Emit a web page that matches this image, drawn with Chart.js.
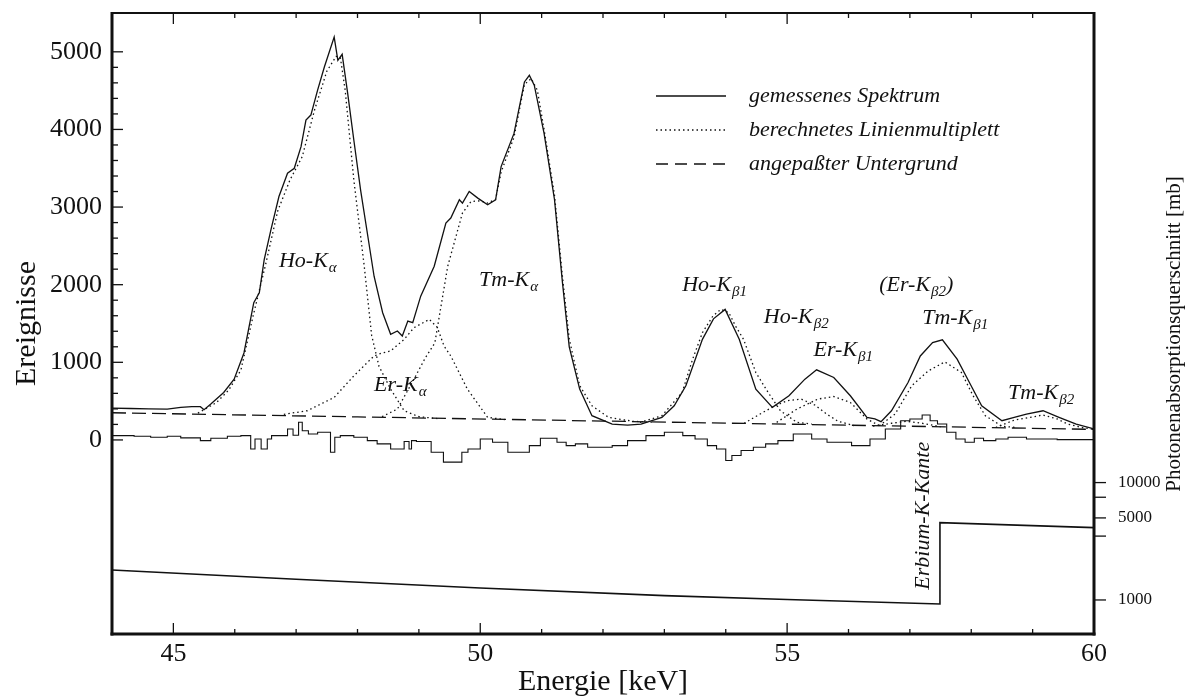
<html>
<head>
  <meta charset="utf-8">
  <title>Spektrum Ho / Er / Tm</title>
  <script src="https://cdn.jsdelivr.net/npm/chart.js"></script>
  <style>
    html, body { margin: 0; padding: 0; background: #fff; }
  </style>
</head>
<body>
<canvas id="spektrum" width="1190" height="700"></canvas>
<script>
// gemessenes Spektrum
const measE = [
  44.00,44.30,44.60,44.90,45.12,45.30,45.44,45.50,45.61,45.82,
  45.99,46.15,46.31,46.40,46.48,46.59,46.72,46.86,46.97,47.08,
  47.16,47.24,47.35,47.46,47.62,47.68,47.75,47.84,47.94,48.05,
  48.16,48.27,48.41,48.54,48.65,48.73,48.82,48.90,49.03,49.25,
  49.44,49.52,49.66,49.71,49.82,49.96,50.12,50.25,50.34,50.55,
  50.72,50.80,50.88,51.04,51.21,51.34,51.45,51.62,51.82,52.15,
  52.40,52.62,52.96,53.16,53.35,53.62,53.80,53.99,54.22,54.49,
  54.76,55.03,55.29,55.48,55.76,56.03,56.30,56.43,56.53,56.70,
  56.97,57.17,57.37,57.53,57.77,57.97,58.17,58.50,58.70,58.90,
  59.17,59.43,59.71,60.00];
const measN = [
  411,405,400,398,420,430,428,389,462,612,
  783,1120,1768,1896,2323,2709,3136,3436,3500,3778,
  4121,4185,4506,4805,5190,4891,4968,4464,3864,3222,
  2666,2109,1639,1361,1403,1339,1531,1511,1852,2237,
  2795,2859,3094,3051,3200,3115,3030,3094,3521,3949,
  4612,4698,4570,3949,3094,2024,1200,655,312,205,
  190,205,291,440,697,1296,1560,1682,1296,655,
  420,569,783,903,805,569,291,270,235,376,
  740,1082,1254,1290,1040,740,440,248,291,334,
  376,291,205,141];

// berechnete Linien (jeweils mit Untergrund)
const hoKaE = [45.40,45.70,45.90,46.10,46.30,46.50,46.70,46.90,47.10,47.30,47.50,47.65,47.72,47.80,47.94,48.11,48.23,48.35,48.54,48.76,49.00,49.30];
const hoKaN = [345,480,640,900,1600,2250,2950,3350,3650,4250,4750,4940,4930,4500,3350,2237,1350,950,655,376,300,275];
const erKaE = [46.80,47.18,47.62,47.94,48.16,48.27,48.40,48.54,48.76,48.92,49.17,49.30,49.41,49.52,49.79,50.12,50.40];
const erKaN = [330,376,548,825,997,1082,1120,1146,1296,1446,1553,1450,1210,1082,655,291,262];
const tmKaE = [48.40,48.65,48.92,49.10,49.26,49.47,49.71,49.85,50.00,50.12,50.25,50.34,50.55,50.72,50.83,50.93,51.04,51.21,51.34,51.45,51.62,51.82,52.09,52.49,52.80];
const tmKaN = [300,398,783,1050,1250,2237,2923,3072,3080,3051,3100,3450,3900,4580,4656,4506,4000,3150,2100,1300,700,440,291,240,230];
const hoKb1E = [52.60,52.96,53.29,53.46,53.62,53.79,53.92,54.05,54.16,54.29,54.49,54.69,54.89,55.16,55.40];
const hoKb1N = [225,312,612,1040,1382,1596,1682,1640,1467,1296,869,612,376,226,205];
const hoKb2E = [54.30,54.55,54.80,55.00,55.23,55.45,55.65,55.83,56.09];
const hoKb2N = [215,330,440,505,526,450,330,240,185];
const erKb1E = [54.83,55.16,55.50,55.76,56.03,56.30,56.50];
const erKb1N = [226,398,526,560,483,270,185];
const erKb2E = [56.40,56.70,56.95,57.20,57.50];
const erKb2N = [178,215,240,215,170];
const tmKb1E = [56.50,56.76,57.03,57.30,57.57,57.84,58.03,58.23,58.50,58.75];
const tmKb1N = [183,334,697,890,1005,869,569,312,176,160];
const tmKb2E = [58.40,58.70,58.95,59.17,59.40,59.57,59.80,60.00];
const tmKb2N = [160,255,290,321,270,205,160,135];

// angepasster Untergrund
const bgE = [44, 48, 52, 56, 60];
const bgN = [350, 297, 243, 190, 136];

// Residuen (Histogramm um 0)
const resE = [
  44.00,44.36,44.63,44.90,45.12,45.44,45.61,45.88,46.10,46.26,
  46.33,46.43,46.53,46.60,46.86,46.95,47.04,47.10,47.20,47.35,
  47.56,47.63,47.72,47.94,48.16,48.32,48.54,48.76,48.84,48.88,
  48.96,49.20,49.40,49.70,49.80,50.00,50.20,50.45,50.80,50.98,
  51.25,51.40,51.55,51.75,51.95,52.15,52.40,52.70,53.00,53.30,
  53.50,53.70,53.85,54.00,54.10,54.25,54.45,54.65,54.85,55.10,
  55.40,55.65,56.05,56.35,56.60,56.85,57.00,57.20,57.33,57.45,
  57.60,57.75,57.90,58.05,58.20,58.40,58.60,58.90,59.40,60.00];
const resN = [
  68,55,47,35,47,26,-9,22,47,55,
  -116,13,-116,13,55,141,60,227,119,77,
  99,-158,35,55,35,-9,-51,-116,-20,-116,
  -9,-20,-158,-286,-158,-116,13,-30,-158,-73,
  22,-30,-73,-51,-94,-94,-73,-9,55,99,
  55,13,-73,-116,-265,-201,-137,-94,-51,-9,
  77,13,-30,-73,13,141,248,270,321,248,
  205,99,13,-30,22,-9,13,35,13,4];

// Photonenabsorptionsquerschnitt [mb]
const csE = [44, 47, 50, 53, 55, 57.49, 57.49, 60];
const csN = [1800, 1500, 1266, 1090, 1010, 925, 4560, 4130];

// Achsen
const xTicks = [45, 50, 55, 60];
const xMinor = [45,46,47,48,49,50,51,52,53,54,55,56,57,58,59];
const yTicks = [0, 1000, 2000, 3000, 4000, 5000];
const yMinor = [0,200,400,600,800,1000,1200,1400,1600,1800,2000,2200,2400,2600,2800,3000,3200,3400,3600,3800,4000,4200,4400,4600,4800,5000];
const y2Ticks = [1000, 5000, 10000];
const y2Minor = [1000, 3500, 5000, 7500, 10000];

const serif = "'Liberation Serif', 'Times New Roman', serif";

const labels = [
  {text: 'Ho-K', sub: 'α', e: 46.72, n: 2234},
  {text: 'Tm-K', sub: 'α', e: 49.98, n: 1981},
  {text: 'Er-K', sub: 'α', e: 48.27, n: 633},
  {text: 'Ho-K', sub: 'β1', e: 53.29, n: 1917},
  {text: 'Ho-K', sub: 'β2', e: 54.62, n: 1511},
  {text: '(Er-K', sub: 'β2', after: ')', e: 56.50, n: 1917},
  {text: 'Tm-K', sub: 'β1', e: 57.20, n: 1489},
  {text: 'Er-K', sub: 'β1', e: 55.43, n: 1082},
  {text: 'Tm-K', sub: 'β2', e: 58.60, n: 526}
];

function pts(es, ns) {
  return es.map((e, i) => ({x: e, y: ns[i]}));
}

function dotted(es, ns) {
  return {data: pts(es, ns), borderColor: '#111', borderWidth: 1.3, borderDash: [1.5, 3], pointRadius: 0, yAxisID: 'y'};
}

// keine zusätzlichen Ränder für Beschriftungen
function noPad(s) {
  s.paddingTop = 0; s.paddingBottom = 0; s.paddingLeft = 0; s.paddingRight = 0;
}

const decoPlugin = {
  id: 'deko',
  afterDraw(chart) {
    const {ctx, chartArea: a, scales: {x, y, y2}} = chart;
    const line = (x1, y1, x2, y2_) => { ctx.beginPath(); ctx.moveTo(x1, y1); ctx.lineTo(x2, y2_); ctx.stroke(); };
    ctx.save();
    ctx.strokeStyle = '#111';
    ctx.fillStyle = '#111';

    // Striche nach innen
    ctx.lineWidth = 1.3;
    xMinor.forEach(v => {
      const px = x.getPixelForValue(v);
      const len = xTicks.includes(v) ? 11 : 5;
      line(px, a.bottom, px, a.bottom - len);
      line(px, a.top, px, a.top + len);
    });
    yMinor.forEach(v => {
      const py = y.getPixelForValue(v);
      const len = yTicks.includes(v) ? 11 : 6;
      line(a.left, py, a.left + len, py);
    });
    y2Minor.forEach(v => {
      const py = y2.getPixelForValue(v);
      line(a.right, py, a.right + 12, py);
    });

    // Rahmen
    ctx.lineWidth = 3;
    line(a.left, a.top - 1, a.left, a.bottom + 1.5);
    line(a.left - 1.5, a.bottom, a.right + 1.5, a.bottom);
    line(a.right, a.top - 1, a.right, a.bottom + 1.5);
    ctx.lineWidth = 2;
    line(a.left, a.top, a.right, a.top);

    // Linienbeschriftungen
    ctx.textAlign = 'left';
    ctx.textBaseline = 'alphabetic';
    labels.forEach(l => {
      const px = x.getPixelForValue(l.e);
      const py = y.getPixelForValue(l.n);
      ctx.font = `italic 22px ${serif}`;
      ctx.fillText(l.text, px, py);
      let w = ctx.measureText(l.text).width;
      ctx.font = `italic 15px ${serif}`;
      ctx.fillText(l.sub, px + w + 1, py + 5);
      if (l.after) {
        const w2 = ctx.measureText(l.sub).width;
        ctx.font = `italic 22px ${serif}`;
        ctx.fillText(l.after, px + w + w2 + 1, py);
      }
    });

    // Erbium-K-Kante
    ctx.save();
    ctx.translate(x.getPixelForValue(57.21), y.getPixelForValue(-976));
    ctx.rotate(-Math.PI / 2);
    ctx.font = `italic 22px ${serif}`;
    ctx.textAlign = 'center';
    ctx.textBaseline = 'middle';
    ctx.fillText('Erbium-K-Kante', 0, 0);
    ctx.restore();

    // Legende
    const legend = [
      {text: 'gemessenes Spektrum', dash: []},
      {text: 'berechnetes Linienmultiplett', dash: [1.5, 3]},
      {text: 'angepaßter Untergrund', dash: [12, 7]}
    ];
    ctx.font = `italic 22px ${serif}`;
    ctx.textBaseline = 'middle';
    ctx.textAlign = 'left';
    legend.forEach((it, i) => {
      const ly = 96 + i * 34;
      ctx.lineWidth = 1.3;
      ctx.setLineDash(it.dash);
      line(656, ly, 726, ly);
      ctx.setLineDash([]);
      ctx.fillText(it.text, 749, ly);
    });

    // rechte Achsenbeschriftung
    ctx.save();
    ctx.translate(1174, 334);
    ctx.rotate(-Math.PI / 2);
    ctx.font = `21px ${serif}`;
    ctx.textAlign = 'center';
    ctx.textBaseline = 'middle';
    ctx.fillText('Photonenabsorptionsquerschnitt [mb]', 0, 0);
    ctx.restore();

    ctx.restore();
  }
};

new Chart(document.getElementById('spektrum'), {
  type: 'line',
  data: {
    datasets: [
      {data: pts(resE, resN), borderColor: '#111', borderWidth: 1.1, stepped: 'after', pointRadius: 0, yAxisID: 'y'},
      {data: pts(csE, csN), borderColor: '#111', borderWidth: 1.6, pointRadius: 0, yAxisID: 'y2'},
      {data: pts(bgE, bgN), borderColor: '#111', borderWidth: 1.3, borderDash: [14, 6], pointRadius: 0, yAxisID: 'y'},
      dotted(hoKaE, hoKaN),
      dotted(erKaE, erKaN),
      dotted(tmKaE, tmKaN),
      dotted(hoKb1E, hoKb1N),
      dotted(hoKb2E, hoKb2N),
      dotted(erKb1E, erKb1N),
      dotted(erKb2E, erKb2N),
      dotted(tmKb1E, tmKb1N),
      dotted(tmKb2E, tmKb2N),
      {data: pts(measE, measN), borderColor: '#111', borderWidth: 1.3, pointRadius: 0, yAxisID: 'y'}
    ]
  },
  options: {
    responsive: false,
    animation: false,
    layout: {padding: {top: 13, left: 0, right: 0, bottom: 0}},
    plugins: {legend: {display: false}, tooltip: {enabled: false}},
    scales: {
      x: {
        type: 'linear', min: 44, max: 60,
        grid: {display: false, drawTicks: false},
        border: {display: false},
        afterBuildTicks: s => { s.ticks = xTicks.map(v => ({value: v})); },
        afterFit: s => { s.height = 66; noPad(s); },
        ticks: {color: '#111', padding: 5, maxRotation: 0, font: {family: serif, size: 26}, callback: v => String(v)},
        title: {display: true, text: 'Energie [keV]', color: '#111', padding: {top: 0, bottom: 0}, font: {family: serif, size: 30}}
      },
      y: {
        type: 'linear', position: 'left', min: -2500, max: 5500,
        grid: {display: false, drawTicks: false},
        border: {display: false},
        afterBuildTicks: s => { s.ticks = yTicks.map(v => ({value: v})); },
        afterFit: s => { s.width = 112; noPad(s); },
        ticks: {color: '#111', padding: 10, font: {family: serif, size: 26}, callback: v => String(v)},
        title: {display: true, text: 'Ereignisse', color: '#111', padding: {top: 9, bottom: 0}, font: {family: serif, size: 30}}
      },
      y2: {
        type: 'logarithmic', position: 'right', min: 513, max: 1.0e8,
        grid: {display: false, drawTicks: false},
        border: {display: false},
        afterBuildTicks: s => { s.ticks = y2Ticks.map(v => ({value: v})); },
        afterFit: s => { s.width = 96; noPad(s); },
        ticks: {color: '#111', padding: 24, font: {family: serif, size: 17}, callback: v => String(v)}
      }
    }
  },
  plugins: [decoPlugin]
});
</script>
</body>
</html>
